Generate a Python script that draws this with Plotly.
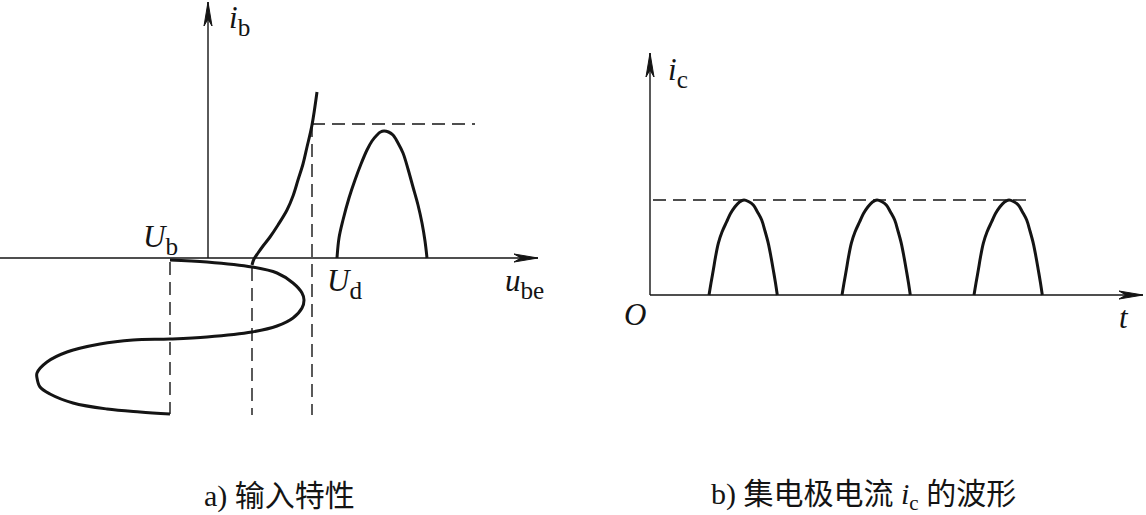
import plotly.graph_objects as go

# ---------------- Panel a: input characteristic (diagram units, origin at axis crossing) ----------------
# input voltage waveform u_be(t), time running downward
sine_ube = [-38, -1, 44, 69, 85, 94, 96, 94, 85, 69, 44, -1, -38, -75, -108, -141, -161, -171, -171,
            -168, -158, -135, -101, -68, -38]
sine_t = [-2, -4, -9, -15, -25, -35, -42, -50, -60, -68, -74, -79, -81, -82, -86, -94, -104, -115, -120,
          -129, -136, -145, -151, -154, -156]
# input characteristic i_b(u_be)
char_ube = [44, 46, 50, 55, 62, 70, 79, 85, 90, 95, 99, 104, 109]
char_ib = [-7, -1, 5, 12, 21, 33, 48, 62, 78, 94, 111, 133, 166]
# resulting base current pulse i_b(t), time running right
pulse_a_t = [129, 131, 135, 141, 147, 153, 159, 164, 169, 172.5, 176, 180.5, 185, 190, 195, 200, 205, 210, 214, 217, 219]
pulse_a_ib = [0, 20, 38, 60, 78, 94, 108, 117, 123, 126, 127, 126, 123, 115, 105, 89, 71, 53, 35, 17, 0]
# reference (dashed) lines
ud_level = 134
ud_x = 104
ub_x = -38
knee_x = 44
dash_bottom = -157
dash_right = 267
# axis extents
axa_x = [-208, 330]
axa_y = [0, 256]

# ---------------- Panel b: collector current waveform ----------------
pulse1_t = [59, 61, 63.3, 65.5, 68.3, 72, 76.7, 80.5, 85, 89.5, 94, 98.5, 103.3, 107.5, 111.7, 115, 118.3, 121, 123.3, 125.5, 127.3]
pulse2_t = [192, 194, 196.3, 198.5, 201.3, 205, 209.7, 213.5, 218, 222.5, 227, 231.5, 236.3, 240.5, 244.7, 248, 251.3, 254, 256.3, 258.5, 260.3]
pulse3_t = [324, 326, 328.3, 330.5, 333.3, 337, 341.7, 345.5, 350, 354.5, 359, 363.5, 368.3, 372.5, 376.7, 380, 383.3, 386, 388.3, 390.5, 392.3]
pulse_ic = [0, 12, 25, 38, 51.7, 63, 73.3, 81.5, 88.3, 93, 95, 93.5, 90, 83, 75, 64, 51.7, 38, 25, 12, 0]
ic_max = 95
ic_dash_x = [3, 382]
axb_x = [0, 493]
axb_y = [0, 242]

INK = "#141414"
THICK = 3.0
THIN = 1.4
DASH = "13px,7px"
LAT = "Liberation Serif, Times New Roman, serif"
CJK = "Liberation Serif, Noto Sans CJK SC, serif"

fig = go.Figure()


def line(x, y, ax="a", width=THIN, dash=None, spline=False):
    xa, ya = ("x", "y") if ax == "a" else ("x2", "y2")
    fig.add_trace(go.Scatter(
        x=x, y=y, xaxis=xa, yaxis=ya, mode="lines",
        line=dict(color=INK, width=width, dash=dash,
                  shape="spline" if spline else "linear", smoothing=1.0),
        hoverinfo="skip", showlegend=False))


def arrowhead(tx, ty, direction, ax="a", length=24, half=4, notch=7):
    # filled barbed arrow head at the tip of an axis
    if direction == "right":
        xs = [tx, tx - length, tx - length + notch, tx - length, tx]
        ys = [ty, ty + half, ty, ty - half, ty]
    else:  # up
        xs = [tx, tx - half, tx, tx + half, tx]
        ys = [ty, ty - length, ty - length + notch, ty - length, ty]
    xa, ya = ("x", "y") if ax == "a" else ("x2", "y2")
    fig.add_trace(go.Scatter(x=xs, y=ys, xaxis=xa, yaxis=ya, mode="lines",
                             fill="toself", fillcolor=INK,
                             line=dict(color=INK, width=1),
                             hoverinfo="skip", showlegend=False))


# ---- panel a ----
line(axa_x, [0, 0])
line([0, 0], axa_y)
arrowhead(axa_x[1], 0, "right")
arrowhead(0, axa_y[1], "up")
line([ud_x, dash_right], [ud_level, ud_level], dash=DASH)
line([ud_x, ud_x], [ud_level, dash_bottom], dash=DASH)
line([knee_x, knee_x], [-10, dash_bottom], dash=DASH)
line([ub_x, ub_x], [-4, dash_bottom + 1], dash=DASH)
line(sine_ube, sine_t, width=THICK, spline=True)
line(char_ube, char_ib, width=THICK, spline=True)
line(pulse_a_t, pulse_a_ib, width=THICK, spline=True)

# ---- panel b ----
line(axb_x, [0, 0], ax="b")
line([0, 0], axb_y, ax="b")
arrowhead(axb_x[1], 0, "right", ax="b")
arrowhead(0, axb_y[1], "up", ax="b")
line(ic_dash_x, [ic_max, ic_max], ax="b", dash=DASH)
for pt in (pulse1_t, pulse2_t, pulse3_t):
    line(pt, pulse_ic, ax="b", width=THICK, spline=True)

anns = []

MAIN_PX = 31
SUB_PX = 25


def sym(main, sub=None, mainsize=MAIN_PX):
    s = "<span style='font-size:%dpx'><i>%s</i></span>" % (mainsize, main)
    if sub:
        s += "<sub>%s</sub>" % sub
    return s


def label(text, x, y, ax="a"):
    xr, yr = ("x", "y") if ax == "a" else ("x2", "y2")
    anns.append(dict(text=text, x=x, y=y, xref=xr, yref=yr, showarrow=False,
                     xanchor="center", yanchor="middle",
                     font=dict(family=LAT, size=round(SUB_PX / 0.7), color=INK)))


label(sym("i", "b"), 31, 238)
label(sym("U", "b"), -48, 19)
label(sym("U", "d"), 136, -25)
label(sym("u", "be"), 316, -25)
label(sym("i", "c"), 28, 223, ax="b")
label(sym("O"), -15, -19, ax="b")
label(sym("t"), 474, -22, ax="b")

anns.append(dict(text="a) 输入特性", x=279.5 / 1146, y=(515 - 496) / 515, xref="paper", yref="paper",
                 showarrow=False, xanchor="center", yanchor="middle",
                 font=dict(family=CJK, size=30, color=INK)))
anns.append(dict(text="b) 集电极电流 <i>i</i><sub>c</sub> 的波形", x=863.5 / 1146, y=(515 - 496) / 515,
                 xref="paper", yref="paper",
                 showarrow=False, xanchor="center", yanchor="middle",
                 font=dict(family=CJK, size=30, color=INK)))

hidden = dict(visible=False, showgrid=False, zeroline=False, fixedrange=True)
fig.update_layout(
    width=1146, height=515,
    margin=dict(l=0, r=0, t=0, b=0),
    paper_bgcolor="white", plot_bgcolor="white",
    xaxis=dict(range=[-208, 938], domain=[0, 1], **hidden),
    yaxis=dict(range=[-257, 258], domain=[0, 1], **hidden),
    xaxis2=dict(range=[-650, 496], domain=[0, 1], overlaying="x", **hidden),
    yaxis2=dict(range=[-220, 295], domain=[0, 1], overlaying="y", **hidden),
    annotations=anns,
    showlegend=False,
)

fig.write_html("out.html", config={"displayModeBar": False},
               post_script="document.body.style.margin='0';document.body.style.overflow='hidden';")
